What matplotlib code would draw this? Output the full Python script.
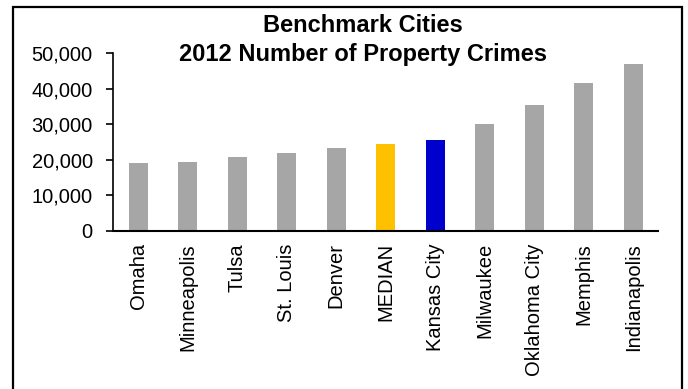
import matplotlib
matplotlib.use("Agg")
import matplotlib.pyplot as plt
from matplotlib.patches import Rectangle
from matplotlib.ticker import FuncFormatter

cities = ["Omaha", "Minneapolis", "Tulsa", "St. Louis", "Denver", "MEDIAN",
          "Kansas City", "Milwaukee", "Oklahoma City", "Memphis", "Indianapolis"]
crimes = [19000, 19300, 20700, 21900, 23300, 24450, 25600, 30200, 35450, 41550, 47000]
colors = ["#A6A6A6"] * 5 + ["#FFC000", "#0000CC"] + ["#A6A6A6"] * 4

plt.rcParams['font.family'] = ['Liberation Sans', 'DejaVu Sans']

fig = plt.figure(figsize=(6.88, 3.89), dpi=100)
ax = fig.add_axes([113.5/688, 1 - 230.7/389, (658 - 113.5)/688, (230.7 - 53.3)/389])

x = range(len(cities))
ax.bar(x, crimes, width=0.39, color=colors)
ax.set_xlim(-0.5, len(cities) - 0.5)
ax.set_ylim(0, 50000)
ax.set_yticks(range(0, 50001, 10000))
ax.yaxis.set_major_formatter(FuncFormatter(lambda v, p: f"{int(v):,}"))
ax.set_xticks(list(x))
ax.set_xticklabels(cities, rotation=90, fontsize=14.5)
ax.tick_params(axis='x', length=0, pad=9)
ax.tick_params(axis='y', length=5, width=1.2, direction='out', labelsize=14.5, pad=10)
for s in ['top', 'right']:
    ax.spines[s].set_visible(False)
ax.spines['left'].set_linewidth(1.2)
ax.spines['bottom'].set_linewidth(1.5)

fig.text(363/688, 1 - 31.5/389, "Benchmark Cities", ha='center', va='baseline',
         fontsize=17, fontweight='bold')
fig.text(363/688, 1 - 60.5/389, "2012 Number of Property Crimes", ha='center', va='baseline',
         fontsize=17, fontweight='bold')

fig.patches.append(Rectangle((13/688, -0.02), (682 - 13)/688, 1 - 7/389 + 0.02,
                             transform=fig.transFigure, fill=False,
                             edgecolor='black', linewidth=1.6, clip_on=False))

fig.savefig("out.png", dpi=100)
